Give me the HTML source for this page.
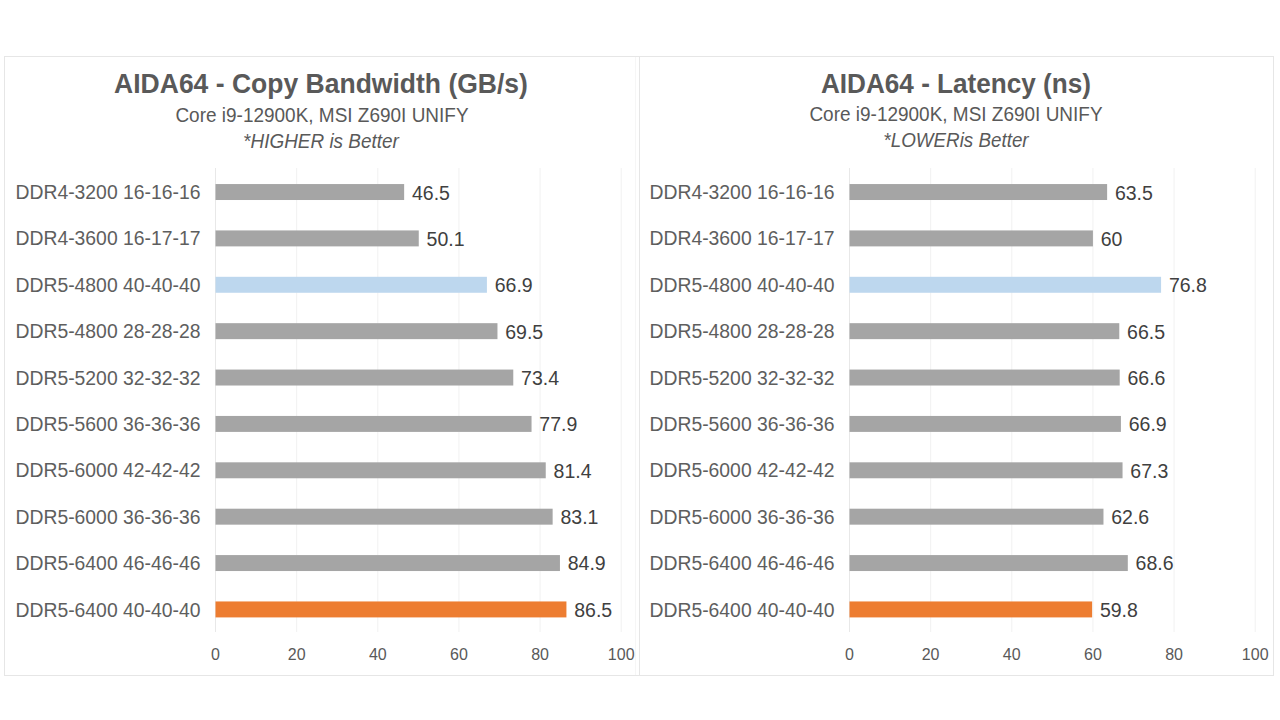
<!DOCTYPE html>
<html><head><meta charset="utf-8"><style>
html,body{margin:0;padding:0;background:#fff;width:1280px;height:720px;overflow:hidden;position:relative}
.t{position:absolute;white-space:nowrap;font-family:"Liberation Sans",sans-serif}
.g{position:absolute;width:1px;background:#f1f1f1}
.s{position:absolute;left:0;top:0}
.frame{position:absolute;border:1px solid #e6e6e6;box-sizing:border-box}
</style></head><body>
<div class="frame" style="left:4px;top:56px;width:632px;height:620px;border-color:#f6f6f6"></div>
<div class="frame" style="left:639px;top:56px;width:635px;height:620px"></div>
<div class="frame" style="left:4px;top:56px;width:1270px;height:620px"></div>
<svg class="s" width="1280" height="720" viewBox="0 0 1280 720"><rect x="215.00" y="168" width="1" height="464" fill="#e8e8e8"/><rect x="296.14" y="168" width="1" height="464" fill="#f1f1f1"/><rect x="377.28" y="168" width="1" height="464" fill="#f1f1f1"/><rect x="458.42" y="168" width="1" height="464" fill="#f1f1f1"/><rect x="539.56" y="168" width="1" height="464" fill="#f1f1f1"/><rect x="620.70" y="168" width="1" height="464" fill="#f1f1f1"/><rect x="215.50" y="184.05" width="188.65" height="15.96" fill="#A5A5A5"/><rect x="215.50" y="230.43" width="203.26" height="15.96" fill="#A5A5A5"/><rect x="215.50" y="276.81" width="271.41" height="15.96" fill="#BDD7EE"/><rect x="215.50" y="323.18" width="281.96" height="15.96" fill="#A5A5A5"/><rect x="215.50" y="369.56" width="297.78" height="15.96" fill="#A5A5A5"/><rect x="215.50" y="415.94" width="316.04" height="15.96" fill="#A5A5A5"/><rect x="215.50" y="462.32" width="330.24" height="15.96" fill="#A5A5A5"/><rect x="215.50" y="508.70" width="337.14" height="15.96" fill="#A5A5A5"/><rect x="215.50" y="555.07" width="344.44" height="15.96" fill="#A5A5A5"/><rect x="215.50" y="601.45" width="350.93" height="15.96" fill="#ED7D31"/></svg>
<div class="t" style="right:1079.50px;top:182.89px;font-size:19.5px;line-height:19.5px;color:#5e5e5e;font-weight:normal;font-style:normal;transform:scaleX(0.992);transform-origin:right top;">DDR4-3200 16-16-16</div>
<div class="t" style="left:411.95px;top:183.69px;font-size:19.5px;line-height:19.5px;color:#404040;font-weight:normal;font-style:normal;">46.5</div>
<div class="t" style="right:1079.50px;top:229.32px;font-size:19.5px;line-height:19.5px;color:#5e5e5e;font-weight:normal;font-style:normal;transform:scaleX(0.992);transform-origin:right top;">DDR4-3600 16-17-17</div>
<div class="t" style="left:426.56px;top:230.04px;font-size:19.5px;line-height:19.5px;color:#404040;font-weight:normal;font-style:normal;">50.1</div>
<div class="t" style="right:1079.50px;top:275.75px;font-size:19.5px;line-height:19.5px;color:#5e5e5e;font-weight:normal;font-style:normal;transform:scaleX(0.992);transform-origin:right top;">DDR5-4800 40-40-40</div>
<div class="t" style="left:494.71px;top:276.39px;font-size:19.5px;line-height:19.5px;color:#404040;font-weight:normal;font-style:normal;">66.9</div>
<div class="t" style="right:1079.50px;top:322.18px;font-size:19.5px;line-height:19.5px;color:#5e5e5e;font-weight:normal;font-style:normal;transform:scaleX(0.992);transform-origin:right top;">DDR5-4800 28-28-28</div>
<div class="t" style="left:505.26px;top:322.74px;font-size:19.5px;line-height:19.5px;color:#404040;font-weight:normal;font-style:normal;">69.5</div>
<div class="t" style="right:1079.50px;top:368.61px;font-size:19.5px;line-height:19.5px;color:#5e5e5e;font-weight:normal;font-style:normal;transform:scaleX(0.992);transform-origin:right top;">DDR5-5200 32-32-32</div>
<div class="t" style="left:521.08px;top:369.09px;font-size:19.5px;line-height:19.5px;color:#404040;font-weight:normal;font-style:normal;">73.4</div>
<div class="t" style="right:1079.50px;top:415.04px;font-size:19.5px;line-height:19.5px;color:#5e5e5e;font-weight:normal;font-style:normal;transform:scaleX(0.992);transform-origin:right top;">DDR5-5600 36-36-36</div>
<div class="t" style="left:539.34px;top:415.44px;font-size:19.5px;line-height:19.5px;color:#404040;font-weight:normal;font-style:normal;">77.9</div>
<div class="t" style="right:1079.50px;top:461.47px;font-size:19.5px;line-height:19.5px;color:#5e5e5e;font-weight:normal;font-style:normal;transform:scaleX(0.992);transform-origin:right top;">DDR5-6000 42-42-42</div>
<div class="t" style="left:553.54px;top:461.79px;font-size:19.5px;line-height:19.5px;color:#404040;font-weight:normal;font-style:normal;">81.4</div>
<div class="t" style="right:1079.50px;top:507.90px;font-size:19.5px;line-height:19.5px;color:#5e5e5e;font-weight:normal;font-style:normal;transform:scaleX(0.992);transform-origin:right top;">DDR5-6000 36-36-36</div>
<div class="t" style="left:560.44px;top:508.14px;font-size:19.5px;line-height:19.5px;color:#404040;font-weight:normal;font-style:normal;">83.1</div>
<div class="t" style="right:1079.50px;top:554.33px;font-size:19.5px;line-height:19.5px;color:#5e5e5e;font-weight:normal;font-style:normal;transform:scaleX(0.992);transform-origin:right top;">DDR5-6400 46-46-46</div>
<div class="t" style="left:567.74px;top:554.49px;font-size:19.5px;line-height:19.5px;color:#404040;font-weight:normal;font-style:normal;">84.9</div>
<div class="t" style="right:1079.50px;top:600.76px;font-size:19.5px;line-height:19.5px;color:#5e5e5e;font-weight:normal;font-style:normal;transform:scaleX(0.992);transform-origin:right top;">DDR5-6400 40-40-40</div>
<div class="t" style="left:574.23px;top:600.84px;font-size:19.5px;line-height:19.5px;color:#404040;font-weight:normal;font-style:normal;">86.5</div>
<div class="t" style="left:-284.50px;width:1000px;text-align:center;top:647.46px;font-size:16px;line-height:16px;color:#595959;font-weight:normal;font-style:normal;">0</div>
<div class="t" style="left:-203.36px;width:1000px;text-align:center;top:647.46px;font-size:16px;line-height:16px;color:#595959;font-weight:normal;font-style:normal;">20</div>
<div class="t" style="left:-122.22px;width:1000px;text-align:center;top:647.46px;font-size:16px;line-height:16px;color:#595959;font-weight:normal;font-style:normal;">40</div>
<div class="t" style="left:-41.08px;width:1000px;text-align:center;top:647.46px;font-size:16px;line-height:16px;color:#595959;font-weight:normal;font-style:normal;">60</div>
<div class="t" style="left:40.06px;width:1000px;text-align:center;top:647.46px;font-size:16px;line-height:16px;color:#595959;font-weight:normal;font-style:normal;">80</div>
<div class="t" style="left:121.20px;width:1000px;text-align:center;top:647.46px;font-size:16px;line-height:16px;color:#595959;font-weight:normal;font-style:normal;">100</div>
<div class="t" style="left:-178.70px;width:1000px;text-align:center;top:69.88px;font-size:27.2px;line-height:27.2px;color:#595959;font-weight:bold;font-style:normal;transform:scaleX(0.975);transform-origin:center top;">AIDA64 - Copy Bandwidth (GB/s)</div>
<div class="t" style="left:-178.00px;width:1000px;text-align:center;top:106.09px;font-size:19.5px;line-height:19.5px;color:#595959;font-weight:normal;font-style:normal;transform:scaleX(0.973);transform-origin:center top;">Core i9-12900K, MSI Z690I UNIFY</div>
<div class="t" style="left:-178.70px;width:1000px;text-align:center;top:132.48px;font-size:19.4px;line-height:19.4px;color:#595959;font-weight:normal;font-style:italic;transform:scaleX(0.977);transform-origin:center top;">*HIGHER is Better</div>
<svg class="s" width="1280" height="720" viewBox="0 0 1280 720"><rect x="849.00" y="168" width="1" height="464" fill="#e8e8e8"/><rect x="930.14" y="168" width="1" height="464" fill="#f1f1f1"/><rect x="1011.28" y="168" width="1" height="464" fill="#f1f1f1"/><rect x="1092.42" y="168" width="1" height="464" fill="#f1f1f1"/><rect x="1173.56" y="168" width="1" height="464" fill="#f1f1f1"/><rect x="1254.70" y="168" width="1" height="464" fill="#f1f1f1"/><rect x="849.50" y="184.05" width="257.62" height="15.96" fill="#A5A5A5"/><rect x="849.50" y="230.43" width="243.42" height="15.96" fill="#A5A5A5"/><rect x="849.50" y="276.81" width="311.58" height="15.96" fill="#BDD7EE"/><rect x="849.50" y="323.18" width="269.79" height="15.96" fill="#A5A5A5"/><rect x="849.50" y="369.56" width="270.20" height="15.96" fill="#A5A5A5"/><rect x="849.50" y="415.94" width="271.41" height="15.96" fill="#A5A5A5"/><rect x="849.50" y="462.32" width="273.04" height="15.96" fill="#A5A5A5"/><rect x="849.50" y="508.70" width="253.97" height="15.96" fill="#A5A5A5"/><rect x="849.50" y="555.07" width="278.31" height="15.96" fill="#A5A5A5"/><rect x="849.50" y="601.45" width="242.61" height="15.96" fill="#ED7D31"/></svg>
<div class="t" style="right:445.50px;top:182.89px;font-size:19.5px;line-height:19.5px;color:#5e5e5e;font-weight:normal;font-style:normal;transform:scaleX(0.992);transform-origin:right top;">DDR4-3200 16-16-16</div>
<div class="t" style="left:1114.92px;top:183.69px;font-size:19.5px;line-height:19.5px;color:#404040;font-weight:normal;font-style:normal;">63.5</div>
<div class="t" style="right:445.50px;top:229.32px;font-size:19.5px;line-height:19.5px;color:#5e5e5e;font-weight:normal;font-style:normal;transform:scaleX(0.992);transform-origin:right top;">DDR4-3600 16-17-17</div>
<div class="t" style="left:1100.72px;top:230.04px;font-size:19.5px;line-height:19.5px;color:#404040;font-weight:normal;font-style:normal;">60</div>
<div class="t" style="right:445.50px;top:275.75px;font-size:19.5px;line-height:19.5px;color:#5e5e5e;font-weight:normal;font-style:normal;transform:scaleX(0.992);transform-origin:right top;">DDR5-4800 40-40-40</div>
<div class="t" style="left:1168.88px;top:276.39px;font-size:19.5px;line-height:19.5px;color:#404040;font-weight:normal;font-style:normal;">76.8</div>
<div class="t" style="right:445.50px;top:322.18px;font-size:19.5px;line-height:19.5px;color:#5e5e5e;font-weight:normal;font-style:normal;transform:scaleX(0.992);transform-origin:right top;">DDR5-4800 28-28-28</div>
<div class="t" style="left:1127.09px;top:322.74px;font-size:19.5px;line-height:19.5px;color:#404040;font-weight:normal;font-style:normal;">66.5</div>
<div class="t" style="right:445.50px;top:368.61px;font-size:19.5px;line-height:19.5px;color:#5e5e5e;font-weight:normal;font-style:normal;transform:scaleX(0.992);transform-origin:right top;">DDR5-5200 32-32-32</div>
<div class="t" style="left:1127.50px;top:369.09px;font-size:19.5px;line-height:19.5px;color:#404040;font-weight:normal;font-style:normal;">66.6</div>
<div class="t" style="right:445.50px;top:415.04px;font-size:19.5px;line-height:19.5px;color:#5e5e5e;font-weight:normal;font-style:normal;transform:scaleX(0.992);transform-origin:right top;">DDR5-5600 36-36-36</div>
<div class="t" style="left:1128.71px;top:415.44px;font-size:19.5px;line-height:19.5px;color:#404040;font-weight:normal;font-style:normal;">66.9</div>
<div class="t" style="right:445.50px;top:461.47px;font-size:19.5px;line-height:19.5px;color:#5e5e5e;font-weight:normal;font-style:normal;transform:scaleX(0.992);transform-origin:right top;">DDR5-6000 42-42-42</div>
<div class="t" style="left:1130.34px;top:461.79px;font-size:19.5px;line-height:19.5px;color:#404040;font-weight:normal;font-style:normal;">67.3</div>
<div class="t" style="right:445.50px;top:507.90px;font-size:19.5px;line-height:19.5px;color:#5e5e5e;font-weight:normal;font-style:normal;transform:scaleX(0.992);transform-origin:right top;">DDR5-6000 36-36-36</div>
<div class="t" style="left:1111.27px;top:508.14px;font-size:19.5px;line-height:19.5px;color:#404040;font-weight:normal;font-style:normal;">62.6</div>
<div class="t" style="right:445.50px;top:554.33px;font-size:19.5px;line-height:19.5px;color:#5e5e5e;font-weight:normal;font-style:normal;transform:scaleX(0.992);transform-origin:right top;">DDR5-6400 46-46-46</div>
<div class="t" style="left:1135.61px;top:554.49px;font-size:19.5px;line-height:19.5px;color:#404040;font-weight:normal;font-style:normal;">68.6</div>
<div class="t" style="right:445.50px;top:600.76px;font-size:19.5px;line-height:19.5px;color:#5e5e5e;font-weight:normal;font-style:normal;transform:scaleX(0.992);transform-origin:right top;">DDR5-6400 40-40-40</div>
<div class="t" style="left:1099.91px;top:600.84px;font-size:19.5px;line-height:19.5px;color:#404040;font-weight:normal;font-style:normal;">59.8</div>
<div class="t" style="left:349.50px;width:1000px;text-align:center;top:647.46px;font-size:16px;line-height:16px;color:#595959;font-weight:normal;font-style:normal;">0</div>
<div class="t" style="left:430.64px;width:1000px;text-align:center;top:647.46px;font-size:16px;line-height:16px;color:#595959;font-weight:normal;font-style:normal;">20</div>
<div class="t" style="left:511.78px;width:1000px;text-align:center;top:647.46px;font-size:16px;line-height:16px;color:#595959;font-weight:normal;font-style:normal;">40</div>
<div class="t" style="left:592.92px;width:1000px;text-align:center;top:647.46px;font-size:16px;line-height:16px;color:#595959;font-weight:normal;font-style:normal;">60</div>
<div class="t" style="left:674.06px;width:1000px;text-align:center;top:647.46px;font-size:16px;line-height:16px;color:#595959;font-weight:normal;font-style:normal;">80</div>
<div class="t" style="left:755.20px;width:1000px;text-align:center;top:647.46px;font-size:16px;line-height:16px;color:#595959;font-weight:normal;font-style:normal;">100</div>
<div class="t" style="left:456.30px;width:1000px;text-align:center;top:69.88px;font-size:27.2px;line-height:27.2px;color:#595959;font-weight:bold;font-style:normal;transform:scaleX(0.961);transform-origin:center top;">AIDA64 - Latency (ns)</div>
<div class="t" style="left:456.00px;width:1000px;text-align:center;top:105.29px;font-size:19.5px;line-height:19.5px;color:#595959;font-weight:normal;font-style:normal;transform:scaleX(0.973);transform-origin:center top;">Core i9-12900K, MSI Z690I UNIFY</div>
<div class="t" style="left:456.20px;width:1000px;text-align:center;top:131.28px;font-size:19.4px;line-height:19.4px;color:#595959;font-weight:normal;font-style:italic;transform:scaleX(0.97);transform-origin:center top;">*LOWERis Better</div>
</body></html>
